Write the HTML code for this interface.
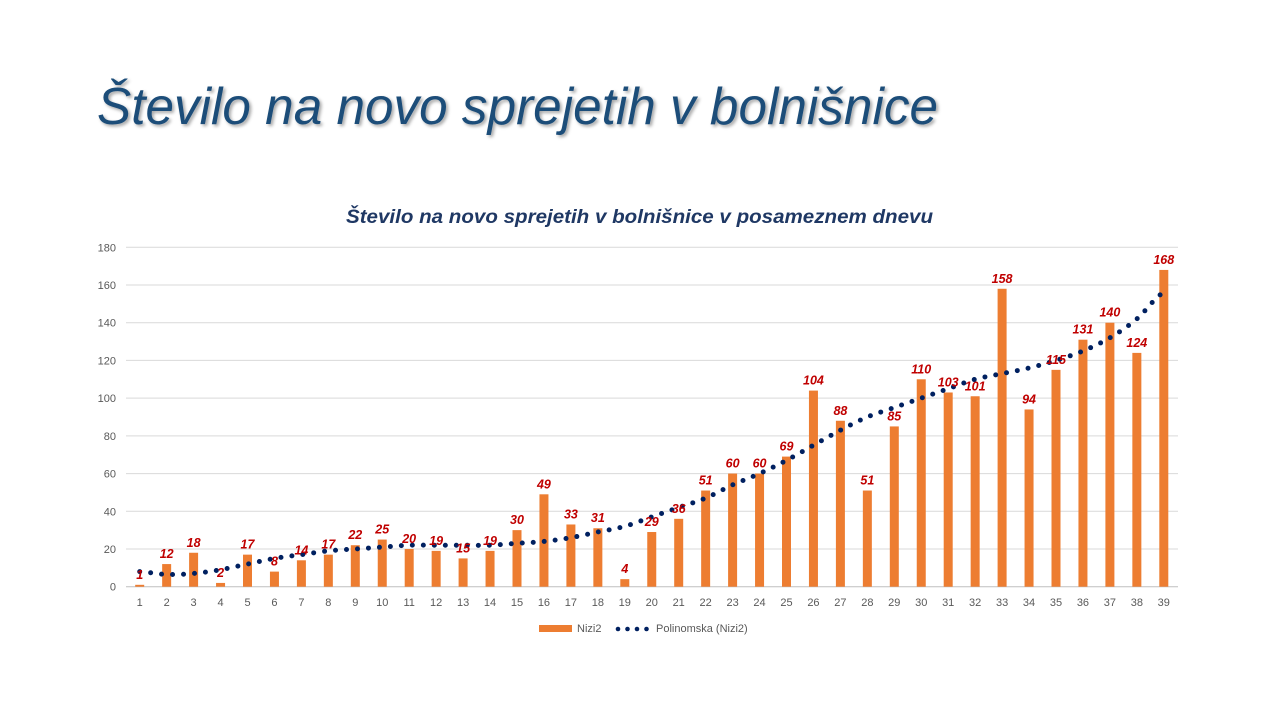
<!DOCTYPE html>
<html><head><meta charset="utf-8"><style>
html,body{margin:0;padding:0;background:#fff;width:1280px;height:720px;overflow:hidden}
svg{display:block}
text{font-family:"Liberation Sans",sans-serif}
</style></head><body>
<svg id="s" width="1280" height="720" xmlns="http://www.w3.org/2000/svg">
<defs><filter id="sh" x="-5%" y="-20%" width="110%" height="150%"><feDropShadow dx="2" dy="2" stdDeviation="1.5" flood-color="#000" flood-opacity="0.35"/></filter></defs>
<text x="97" y="124" font-size="52" font-style="italic" fill="#1f4e79" textLength="841" lengthAdjust="spacingAndGlyphs" filter="url(#sh)">Število na novo sprejetih v bolnišnice</text>
<text x="346" y="223" font-size="19" font-weight="bold" font-style="italic" fill="#1f3864" textLength="587" lengthAdjust="spacingAndGlyphs">Število na novo sprejetih v bolnišnice v posameznem dnevu</text>
<g id="g"></g>
</svg>
<script>
var d=[1,12,18,2,17,8,14,17,22,25,20,19,15,19,30,49,33,31,4,29,36,51,60,60,69,104,88,51,85,110,103,101,158,94,115,131,140,124,168];
var t=[8,6.5,7,9,12,15,17,19,20,21,22,22,22,22,23,24,26,29,32,37,42,47,54,60,67,75,83,90,95,100,105,110,113,116,120,125,132,142,156];
var y0=586.7,k=339.4/180,x0=139.7,dx=26.95,h='';
function Y(v){return y0-v*k}
for(var i=0;i<=180;i+=20){var y=Y(i);h+='<line x1="126" x2="1178" y1="'+y+'" y2="'+y+'" stroke="'+(i?'#d9d9d9':'#bfbfbf')+'" stroke-width="1"/>';
h+='<text x="116" y="'+(y+4)+'" font-size="11" fill="#595959" text-anchor="end">'+i+'</text>';}
for(var j=0;j<39;j++){var x=x0+j*dx;h+='<rect x="'+(x-4.5)+'" y="'+Y(d[j])+'" width="9" height="'+(d[j]*k)+'" fill="#ed7d31"/>';
h+='<text x="'+x+'" y="606" font-size="11" fill="#595959" text-anchor="middle">'+(j+1)+'</text>';}
var p='M'+x0+' '+Y(t[0]);
for(var j=0;j<38;j++){var a=t[Math.max(j-1,0)],b=t[j],c=t[j+1],e=t[Math.min(j+2,38)];
var xa=x0+j*dx,xb=xa+dx;p+=' C'+(xa+dx/3)+' '+Y(b+(c-a)/6)+' '+(xb-dx/3)+' '+Y(c-(e-b)/6)+' '+xb+' '+Y(c);}
h+='<path d="'+p+'" fill="none" stroke="#002060" stroke-width="5" stroke-linecap="round" stroke-dasharray="0 11"/>';
for(var j=0;j<39;j++){var x=x0+j*dx;h+='<text x="'+x+'" y="'+(Y(d[j])-6)+'" font-size="12.5" font-weight="bold" font-style="italic" fill="#c00000" text-anchor="middle">'+d[j]+'</text>';}
h+='<rect x="539" y="625" width="33" height="7" fill="#ed7d31"/><text x="577" y="632" font-size="11" fill="#595959">Nizi2</text>';
for(var m=0;m<4;m++)h+='<circle cx="'+(618+m*9.5)+'" cy="629" r="2.3" fill="#002060"/>';
h+='<text x="656" y="632" font-size="11" fill="#595959">Polinomska (Nizi2)</text>';
document.getElementById('g').innerHTML=h;
</script>
</body></html>
